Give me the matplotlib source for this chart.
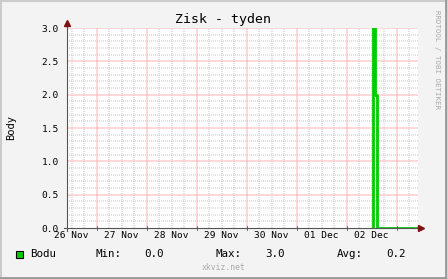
import numpy as np
import matplotlib
matplotlib.use("Agg")
import matplotlib.pyplot as plt
from matplotlib.lines import Line2D
from matplotlib.patches import Rectangle

# data (hodiny od 26 Nov 00:00)
t_hours = [156.8, 157.8, 158.6, 178.2]
body = [3.0, 2.0, 0.0, 0.0]
day_labels = ["26 Nov", "27 Nov", "28 Nov", "29 Nov", "30 Nov", "01 Dec", "02 Dec"]
y_ticks = [0.0, 0.5, 1.0, 1.5, 2.0, 2.5, 3.0]
stats = {"Min:": "0.0", "Max:": "3.0", "Avg:": "0.2"}

x_start, x_end = 9.74, 178.2
mono = "DejaVu Sans Mono"

fig = plt.figure(figsize=(4.47, 2.79), dpi=100, facecolor="#F3F3F3")
ax = fig.add_axes([67/447, 1-228/279, (418-67)/447, 200/279])
ax.set_facecolor("white")
ax.set_xlim(x_start, x_end)
ax.set_ylim(0, 3.0)

# grid - minor teckovane, major svetle cervene, zarovnane na cele pixely
px = 0.72
minor = dict(color="#C4C4C4", lw=px, ls=(0, (1, 1)), zorder=1, snap=False)
major = dict(color="#FFB4B4", lw=px, ls="-", zorder=1.5, snap=False)
inv = ax.transData.inverted()


def snap_x(v):
    p = ax.transData.transform((v, 0))[0]
    return inv.transform((np.round(p), 0))[0]


def snap_y(v):
    p = ax.transData.transform((0, v))[1]
    return inv.transform((0, np.round(p)))[1]


for k in range(2, 30):
    h = 6 * k
    if h > x_end:
        break
    ax.axvline(snap_x(h), **(major if k % 4 == 0 else minor))
for k in range(1, 31):
    ax.axhline(snap_y(k / 10), **(major if k % 5 == 0 else minor))

# data line
ax.step(t_hours, body, where="post", color="#00CC00", lw=2, zorder=3)
ax.plot([t_hours[0], t_hours[0]], [0, body[0]], color="#00CC00", lw=2, zorder=3)

for s in ax.spines.values():
    s.set_visible(False)

ax.set_xticks([12 + 24 * i for i in range(len(day_labels))])
ax.set_xticklabels(day_labels, family=mono, fontsize=6.8)
ax.set_yticks(y_ticks)
ax.set_yticklabels([f"{v:.1f}" for v in y_ticks], family=mono, fontsize=6.8)
ax.tick_params(axis="both", length=0, pad=2)
ax.tick_params(axis="y", pad=6)
ax.set_ylabel("Body", family=mono, fontsize=7.5, labelpad=18)

# axis lines with arrows
fig.add_artist(Line2D([67/447, 67/447], [1-231/279, 1-24/279], color="#555555", lw=0.8))
fig.add_artist(Line2D([64/447, 420/447], [1-228/279, 1-228/279], color="#555555", lw=0.8))
fig.add_artist(Line2D([67/447], [1-23/279], marker="^", ms=4.5, color="#7F1010", lw=0))
fig.add_artist(Line2D([421/447], [1-228/279], marker=">", ms=4.5, color="#7F1010", lw=0))
for h in range(24, int(x_end), 24):
    xf = (67 + (h - x_start) * 50 / 24) / 447
    fig.add_artist(Line2D([xf, xf], [1-230/279, 1-226/279], color="#555555", lw=0.6))

fig.text(223/447, 1-19/279, "Zisk - tyden", family=mono, fontsize=9.5, ha="center", va="center")
fig.text(437/447, 1-60/279, "RRDTOOL / TOBI OETIKER", family=mono, fontsize=5.3,
         color="#AAAAAA", rotation=270, ha="center", va="center")

# legend row
ly = 1 - 254/279
fig.add_artist(Rectangle((16/447, ly - 3.5/279), 7/447, 7/279, facecolor="#00CC00",
                         edgecolor="black", lw=0.8, transform=fig.transFigure))
fig.text(30/447, ly, "Bodu", family=mono, fontsize=7.8, va="center")
xs = [(95, 144), (216, 265), (337, 386)]
for (lab, val), (xl, xv) in zip(stats.items(), xs):
    fig.text(xl/447, ly, lab, family=mono, fontsize=7.8, va="center")
    fig.text(xv/447, ly, val, family=mono, fontsize=7.8, va="center")
fig.text(224/447, 1-268/279, "xkviz.net", family=mono, fontsize=5.8, color="#AAAAAA",
         ha="center", va="center")

# frame
fig.add_artist(Line2D([0, 1], [1-0.5/279, 1-0.5/279], color="#CBCBCB", lw=1.5))
fig.add_artist(Line2D([0.5/447, 0.5/447], [0, 1], color="#CBCBCB", lw=1.5))
fig.add_artist(Line2D([0, 1], [1.2/279, 1.2/279], color="#999999", lw=2))
fig.add_artist(Line2D([1-1/447, 1-1/447], [0, 1], color="#999999", lw=2))

fig.savefig("out.png", dpi=100, facecolor=fig.get_facecolor())
